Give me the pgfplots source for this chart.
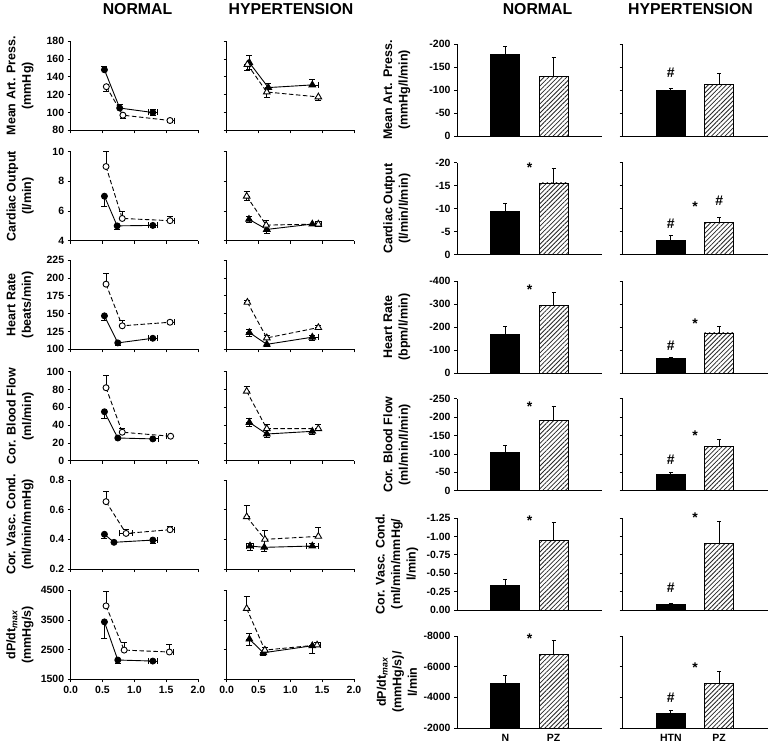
\documentclass[border=0pt]{standalone}
\usepackage{pgfplots}
\pgfplotsset{compat=1.18}
\usetikzlibrary{patterns,patterns.meta}
\usepackage{fontspec}
\setmainfont{Liberation Sans}
\newcommand\tfont{\fontsize{10.5}{12}\selectfont\bfseries}
\newcommand\lfont{\fontsize{12.5}{15.5}\selectfont\bfseries}
\newcommand\hfont{\fontsize{15.8}{18}\selectfont\bfseries}
\newcommand\sfont{\fontsize{14}{16}\selectfont\bfseries}
\tikzset{ast/.style={font=\sfont, yshift=-3pt}, hsh/.style={font=\sfont}}
\pgfplotsset{
 base/.style={scale only axis, axis lines*=left, axis line style={-, line width=0.9pt},
   tick align=outside, major tick length=3pt, every tick/.append style={line width=0.8pt, black},
   tick label style={font=\tfont}, /pgf/number format/assume math mode=true,
   /pgf/number format/1000 sep={}, label style={font=\lfont, align=center}},
 L/.style={base, width=127.3pt, height=89pt, xmin=0, xmax=2, xtick={0,0.5,1,1.5,2}, xticklabels={},
   ylabel style={at={(axis description cs:-0.398,0.5)}, anchor=center}},
 R/.style={base, width=145pt, height=92pt, xmin=0, xmax=3, xtick=\empty, clip mode=individual,
   ylabel style={at={(axis description cs:-0.414,0.5)}, anchor=center}},
 eb/.style={error bars/x dir=both, error bars/x explicit, error bars/y dir=both, error bars/y explicit,
   error bars/error bar style={line width=0.8pt, solid, black},
   error bars/error mark options={rotate=90, mark size=3pt, line width=0.8pt, solid, black}},
 nf/.style={black, solid, line width=0.9pt, mark=*, mark size=3pt, mark options={solid, fill=black}, eb},
 no/.style={black, dash pattern=on 4.5pt off 2.5pt, line width=0.9pt, mark=*, mark size=3pt, mark options={solid, fill=white}, eb},
 hf/.style={black, solid, line width=0.9pt, mark=triangle*, mark size=3.8pt, mark options={solid, fill=black}, eb},
 ho/.style={black, dash pattern=on 4.5pt off 2.5pt, line width=0.9pt, mark=triangle*, mark size=3.8pt, mark options={solid, fill=white}, eb},
 beb/.style={error bars/y dir=plus, error bars/y explicit,
   error bars/error bar style={line width=0.8pt, black},
   error bars/error mark options={rotate=90, mark size=2pt, line width=0.8pt, black}},
 bN/.style={ybar, bar width=0.6, bar shift=0pt, fill=black, draw=black, line width=0.8pt, beb},
 bP/.style={ybar, bar width=0.6, bar shift=0pt, fill=white, draw=black, line width=0.8pt,
   postaction={pattern={Lines[angle=45, distance=3.2pt, line width=0.8pt]}, pattern color=black!85}, beb},
}
\begin{document}
\begin{tikzpicture}
\path[use as bounding box] (0,0) rectangle (768pt,748pt);
\node[font=\hfont] at (137.5pt,738.5pt) {NORMAL};
\node[font=\hfont] at (291pt,738.5pt) {HYPERTENSION};
\node[font=\hfont] at (537.5pt,738.5pt) {NORMAL};
\node[font=\hfont] at (690.5pt,738.5pt) {HYPERTENSION};

% ---------------- Row 1: Mean arterial pressure ----------------
\begin{axis}[L, at={(70.7pt,617.7pt)}, anchor=south west, ymin=80, ymax=180, ytick={80,100,...,180},
  ylabel={Mean Art. Press.\\(mmHg)}]
\addplot[nf] coordinates {(0.53,148) += (0,4) -= (0,0) (0.77,105) += (0,4) -= (0,0) (1.29,100) +- (0.07,3)};
\addplot[no] coordinates {(0.56,129) += (0,0) -= (0,5) (0.82,97) += (0,0) -= (0,4) (1.56,91) += (0.07,0) -= (0,2)};
\end{axis}
\begin{axis}[L, at={(226.7pt,617.7pt)}, anchor=south west, ymin=80, ymax=180, ytick={80,100,...,180}, yticklabels={}]
\addplot[hf] coordinates {(0.356,156) +- (0,8) (0.654,128) +- (0,5) (1.345,131) += (0.1,6) -= (0,0)};
\addplot[ho] coordinates {(0.325,154) += (0,0) -= (0,7) (0.63,123) += (0,0) -= (0,6) (1.44,117.5) += (0,0) -= (0,4)};
\end{axis}
\begin{axis}[R, at={(457pt,612pt)}, anchor=south west, ymin=0, ymax=200, ytick={0,50,...,200},
  yticklabels={0,-50,-100,-150,-200}, ylabel={Mean Art. Press.\\(mmHg/l/min)}]
\addplot[bN] coordinates {(1,178) +- (0,17)};
\addplot[bP] coordinates {(2,130) +- (0,41)};
\end{axis}
\begin{axis}[R, at={(622.5pt,612pt)}, anchor=south west, ymin=0, ymax=200, ytick={0,50,...,200}, yticklabels={}]
\addplot[bN] coordinates {(1,99) +- (0,5)};
\addplot[bP] coordinates {(2,112) +- (0,23)};
\node[hsh] at (axis cs:1,138) {\#};
\end{axis}

% ---------------- Row 2: Cardiac output ----------------
\begin{axis}[L, at={(70.7pt,507.3pt)}, anchor=south west, ymin=4, ymax=10, ytick={4,6,8,10},
  ylabel={Cardiac Output\\(l/min)}]
\addplot[nf] coordinates {(0.53,7.0) += (0,0) -= (0,0.7) (0.73,5.0) += (0,0) -= (0,0.25) (1.29,5.03) += (0.07,0) -= (0.07,0.15)};
\addplot[no] coordinates {(0.555,9.0) += (0,1.0) -= (0,0) (0.81,5.5) += (0,0.5) -= (0,0) (1.56,5.35) += (0.07,0.3) -= (0,0)};
\end{axis}
\begin{axis}[L, at={(226.7pt,507.3pt)}, anchor=south west, ymin=4, ymax=10, ytick={4,6,8,10}, yticklabels={}]
\addplot[hf] coordinates {(0.35,5.44) +- (0,0.2) (0.63,4.76) += (0,0) -= (0,0.3) (1.345,5.12) += (0,0) -= (0,0.1)};
\addplot[ho] coordinates {(0.314,7.0) +- (0,0.3) (0.62,5.05) += (0,0.3) -= (0,0) (1.44,5.12) +- (0.05,0.15)};
\end{axis}
\begin{axis}[R, at={(457pt,493.3pt)}, anchor=south west, ymin=0, ymax=20, ytick={0,5,...,20},
  yticklabels={0,-5,-10,-15,-20}, ylabel={Cardiac Output\\(l/min/l/min)}]
\addplot[bN] coordinates {(1,9.4) +- (0,1.8)};
\addplot[bP] coordinates {(2,15.6) +- (0,3.2)};
\node[ast] at (axis cs:1.5,19.5) {*};
\end{axis}
\begin{axis}[R, at={(622.5pt,493.3pt)}, anchor=south west, ymin=0, ymax=20, ytick={0,5,...,20}, yticklabels={}]
\addplot[bN] coordinates {(1,3.2) +- (0,0.9)};
\addplot[bP] coordinates {(2,7.0) +- (0,1.1)};
\node[hsh] at (axis cs:1,6.7) {\#};
\node[ast] at (axis cs:1.5,11.0) {*};
\node[hsh] at (axis cs:2,11.7) {\#};
\end{axis}

% ---------------- Row 3: Heart rate ----------------
\begin{axis}[L, at={(70.7pt,398.7pt)}, anchor=south west, ymin=100, ymax=225, ytick={100,125,...,225},
  ylabel={Heart Rate\\(beats/min)}]
\addplot[nf] coordinates {(0.53,147) += (0,0) -= (0,6) (0.74,109) += (0,0) -= (0,3) (1.29,115.5) += (0.07,0) -= (0.07,2)};
\addplot[no] coordinates {(0.555,191.5) += (0,15) -= (0,0) (0.81,133) += (0,7) -= (0,0) (1.56,138) += (0.07,3) -= (0,0)};
\end{axis}
\begin{axis}[L, at={(226.7pt,398.7pt)}, anchor=south west, ymin=100, ymax=225, ytick={100,125,...,225}, yticklabels={}]
\addplot[hf] coordinates {(0.356,123.5) +- (0,5) (0.63,107) += (0,0) -= (0,3) (1.345,117) += (0.1,2) -= (0,5)};
\addplot[ho] coordinates {(0.325,166) += (0,3) -= (0,0) (0.63,116) += (0,3) -= (0,0) (1.44,130.5) += (0,3) -= (0,0)};
\end{axis}
\begin{axis}[R, at={(457pt,375pt)}, anchor=south west, ymin=0, ymax=400, ytick={0,100,...,400},
  yticklabels={0,-100,-200,-300,-400}, ylabel={Heart Rate\\(bpm/l/min)}]
\addplot[bN] coordinates {(1,169) +- (0,33)};
\addplot[bP] coordinates {(2,292) +- (0,57)};
\node[ast] at (axis cs:1.5,374) {*};
\end{axis}
\begin{axis}[R, at={(622.5pt,375pt)}, anchor=south west, ymin=0, ymax=400, ytick={0,100,...,400}, yticklabels={}]
\addplot[bN] coordinates {(1,62) +- (0,6)};
\addplot[bP] coordinates {(2,174) +- (0,28)};
\node[hsh] at (axis cs:1,119) {\#};
\node[ast] at (axis cs:1.5,227) {*};
\end{axis}

% ---------------- Row 4: Coronary blood flow ----------------
\begin{axis}[L, at={(70.7pt,287.3pt)}, anchor=south west, ymin=0, ymax=100, ytick={0,20,...,100},
  ylabel={Cor. Blood Flow\\(ml/min)}]
\addplot[nf] coordinates {(0.53,55) += (0,0) -= (0,8) (0.74,25.5) += (0,0) -= (0,2) (1.29,24.5) += (0.08,0) -= (0,2)};
\addplot[no] coordinates {(0.555,82) += (0,14) -= (0,0) (0.81,32) += (0,4) -= (0,0) (1.57,27.5) += (0,0) -= (0.07,0)};
\end{axis}
\begin{axis}[L, at={(226.7pt,287.3pt)}, anchor=south west, ymin=0, ymax=100, ytick={0,20,...,100}, yticklabels={}]
\addplot[hf] coordinates {(0.356,43) +- (0,4) (0.63,30) += (0,0) -= (0,4) (1.345,33) += (0,0) -= (0,3)};
\addplot[ho] coordinates {(0.314,78) += (0,6) -= (0,0) (0.63,36) += (0,5) -= (0,0) (1.44,36) += (0,5) -= (0,0)};
\end{axis}
\begin{axis}[R, at={(457pt,257.3pt)}, anchor=south west, ymin=0, ymax=250, ytick={0,50,...,250},
  yticklabels={0,-50,-100,-150,-200,-250}, ylabel={Cor. Blood Flow\\(ml/min/l/min)}]
\addplot[bN] coordinates {(1,104) +- (0,19)};
\addplot[bP] coordinates {(2,191) +- (0,39)};
\node[ast] at (axis cs:1.5,236) {*};
\end{axis}
\begin{axis}[R, at={(622.5pt,257.3pt)}, anchor=south west, ymin=0, ymax=250, ytick={0,50,...,250}, yticklabels={}]
\addplot[bN] coordinates {(1,44) +- (0,6)};
\addplot[bP] coordinates {(2,120) +- (0,20)};
\node[hsh] at (axis cs:1,84) {\#};
\node[ast] at (axis cs:1.5,157) {*};
\end{axis}

% ---------------- Row 5: Coronary vascular conductance ----------------
\begin{axis}[L, at={(70.7pt,179pt)}, anchor=south west, ymin=0.2, ymax=0.8, ytick={0.2,0.4,0.6,0.8},
  yticklabel style={/pgf/number format/.cd, fixed, fixed zerofill, precision=1},
  ylabel={Cor. Vasc. Cond.\\(ml/min/mmHg)}]
\addplot[nf] coordinates {(0.53,0.434) += (0,0) -= (0,0.03) (0.68,0.38) += (0,0) -= (0,0.01) (1.29,0.395) += (0.07,0) -= (0,0.02)};
\addplot[no] coordinates {(0.555,0.654) += (0,0.07) -= (0,0) (0.87,0.44) += (0.1,0.03) -= (0.1,0) (1.56,0.465) += (0.07,0.02) -= (0,0)};
\end{axis}
\begin{axis}[L, at={(226.7pt,179pt)}, anchor=south west, ymin=0.2, ymax=0.8, ytick={0.2,0.4,0.6,0.8}, yticklabels={}]
\addplot[hf] coordinates {(0.366,0.355) += (0.05,0.02) -= (0.05,0.03) (0.59,0.346) += (0,0) -= (0,0.03) (1.345,0.355) += (0.1,0.02) -= (0.1,0)};
\addplot[ho] coordinates {(0.314,0.552) += (0,0.08) -= (0,0) (0.60,0.40) +- (0,0.06) (1.44,0.42) += (0,0.06) -= (0,0)};
\end{axis}
\begin{axis}[R, at={(457pt,138pt)}, anchor=south west, ymin=0, ymax=1.25, ytick={0,0.25,0.5,0.75,1,1.25},
  yticklabels={0.00,-0.25,-0.50,-0.75,-1.00,-1.25}, ylabel={Cor. Vasc. Cond.\\(ml/min/mmHg/\\l/min)}]
\addplot[bN] coordinates {(1,0.33) +- (0,0.085)};
\addplot[bP] coordinates {(2,0.95) +- (0,0.24)};
\node[ast] at (axis cs:1.5,1.26) {*};
\end{axis}
\begin{axis}[R, at={(622.5pt,138pt)}, anchor=south west, ymin=0, ymax=1.25, ytick={0,0.25,0.5,0.75,1,1.25}, yticklabels={}]
\addplot[bN] coordinates {(1,0.072) +- (0,0.023)};
\addplot[bP] coordinates {(2,0.90) +- (0,0.31)};
\node[hsh] at (axis cs:1,0.307) {\#};
\node[ast] at (axis cs:1.5,1.30) {*};
\end{axis}

% ---------------- Row 6: dP/dt max ----------------
\begin{axis}[L, at={(70.7pt,68.7pt)}, anchor=south west, ymin=1500, ymax=4500, ytick={1500,2500,3500,4500},
  xticklabels={0.0,0.5,1.0,1.5,2.0},
  ylabel={dP/dt\textsubscript{\textit{max}}\\(mmHg/s)}]
\addplot[nf] coordinates {(0.53,3435) += (0,0) -= (0,550) (0.74,2150) += (0,0) -= (0,100) (1.29,2115) += (0.07,0) -= (0.07,60)};
\addplot[no] coordinates {(0.555,3975) += (0,500) -= (0,0) (0.84,2485) += (0,250) -= (0,0) (1.55,2420) += (0.07,250) -= (0,0)};
\end{axis}
\begin{axis}[L, at={(226.7pt,68.7pt)}, anchor=south west, ymin=1500, ymax=4500, ytick={1500,2500,3500,4500}, yticklabels={},
  xticklabels={0.0,0.5,1.0,1.5,2.0}]
\addplot[hf] coordinates {(0.356,2855) +- (0,200) (0.576,2395) += (0,0) -= (0,100) (1.345,2630) += (0,0) -= (0,250)};
\addplot[ho] coordinates {(0.314,3885) += (0,400) -= (0,0) (0.60,2485) += (0,100) -= (0,0) (1.42,2655) += (0.05,100) -= (0,0)};
\end{axis}
\begin{axis}[R, at={(457pt,20pt)}, anchor=south west, ymin=2000, ymax=8000, ytick={2000,4000,6000,8000},
  yticklabels={-2000,-4000,-6000,-8000}, xtick={1,2}, xticklabels={N,PZ}, x tick style={draw=none},
  ylabel={dP/dt\textsubscript{\textit{max}}\\(mmHg/s)/\\l/min}]
\addplot[bN] coordinates {(1,4900) +- (0,500)};
\addplot[bP] coordinates {(2,6770) +- (0,950)};
\node[ast] at (axis cs:1.5,8000) {*};
\end{axis}
\begin{axis}[R, at={(622.5pt,20pt)}, anchor=south west, ymin=2000, ymax=8000, ytick={2000,4000,6000,8000}, yticklabels={},
  xtick={1,2}, xticklabels={HTN,PZ}, x tick style={draw=none}]
\addplot[bN] coordinates {(1,2950) +- (0,175)};
\addplot[bP] coordinates {(2,4900) +- (0,800)};
\node[hsh] at (axis cs:1,3990) {\#};
\node[ast] at (axis cs:1.5,6140) {*};
\end{axis}
\end{tikzpicture}
\end{document}
